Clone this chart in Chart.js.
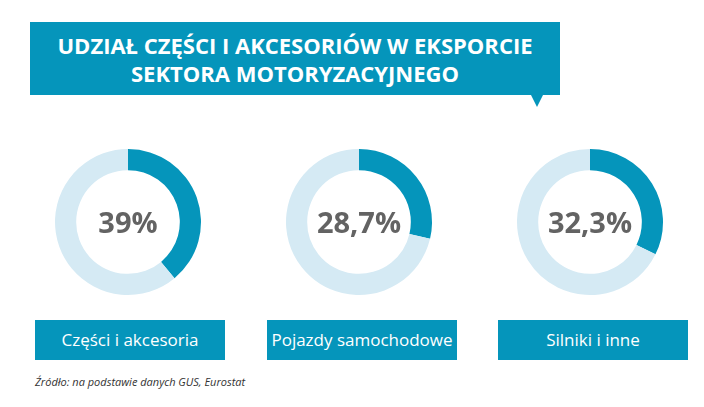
<!DOCTYPE html>
<html>
<head>
<meta charset="utf-8">
<script src="https://cdn.jsdelivr.net/npm/chart.js@4"></script>
<style>
body { margin:0; width:704px; height:407px; background:#fff; font-family:"Open Sans", sans-serif; position:relative; overflow:hidden; }
#title { position:absolute; left:30px; top:22px; width:530px; height:73px; background:#0595bb; color:#fff; font-weight:bold; font-size:22px; line-height:28px; text-align:center; padding-top:9px; box-sizing:border-box; }
#tip { position:absolute; left:531px; top:95px; width:0; height:0; border-left:6px solid transparent; border-right:6px solid transparent; border-top:12px solid #0595bb; }
.wrap { position:absolute; top:142px; width:160px; height:160px; }
.pct { position:absolute; left:0; top:0; width:160px; height:160px; line-height:160px; text-align:center; font-weight:bold; font-size:29px; color:#636363; }
.lab { position:absolute; top:320px; width:190px; height:40px; background:#0595bb; color:#fff; font-size:17px; line-height:40px; text-align:center; }
#src { position:absolute; left:35px; top:374px; font-size:11px; font-style:italic; color:#333; }
</style>
</head>
<body>
<div id="title">UDZIAŁ CZĘŚCI I AKCESORIÓW W EKSPORCIE<br>SEKTORA MOTORYZACYJNEGO</div>
<div id="tip"></div>
<div id="charts"></div>
<div id="src">Źródło: na podstawie danych GUS, Eurostat</div>
<script>
const categories = ["Części i akcesoria", "Pojazdy samochodowe", "Silniki i inne"];
const shares = [39, 28.7, 32.3];
const shareLabels = ["39%", "28,7%", "32,3%"];
const centersX = [128, 359, 590];
const labelLeft = [35, 267, 498];

const container = document.getElementById("charts");
categories.forEach((cat, i) => {
    const wrap = document.createElement("div");
    wrap.className = "wrap";
    wrap.style.left = (centersX[i] - 80) + "px";
    const cv = document.createElement("canvas");
    cv.width = 160; cv.height = 160;
    wrap.appendChild(cv);
    const pct = document.createElement("div");
    pct.className = "pct";
    pct.textContent = shareLabels[i];
    wrap.appendChild(pct);
    container.appendChild(wrap);

    const lab = document.createElement("div");
    lab.className = "lab";
    lab.style.left = labelLeft[i] + "px";
    lab.textContent = cat;
    container.appendChild(lab);

    new Chart(cv.getContext("2d"), {
        type: "doughnut",
        data: {
            labels: [cat, "Pozostałe"],
            datasets: [{
                data: [shares[i], 100 - shares[i]],
                backgroundColor: ["#0595bb", "#d5eaf4"],
                borderWidth: 0
            }]
        },
        options: {
            responsive: false,
            animation: false,
            cutout: "71%",
            layout: { padding: 7 },
            plugins: { legend: { display: false }, tooltip: { enabled: false } }
        }
    });
});
</script>
</body>
</html>
